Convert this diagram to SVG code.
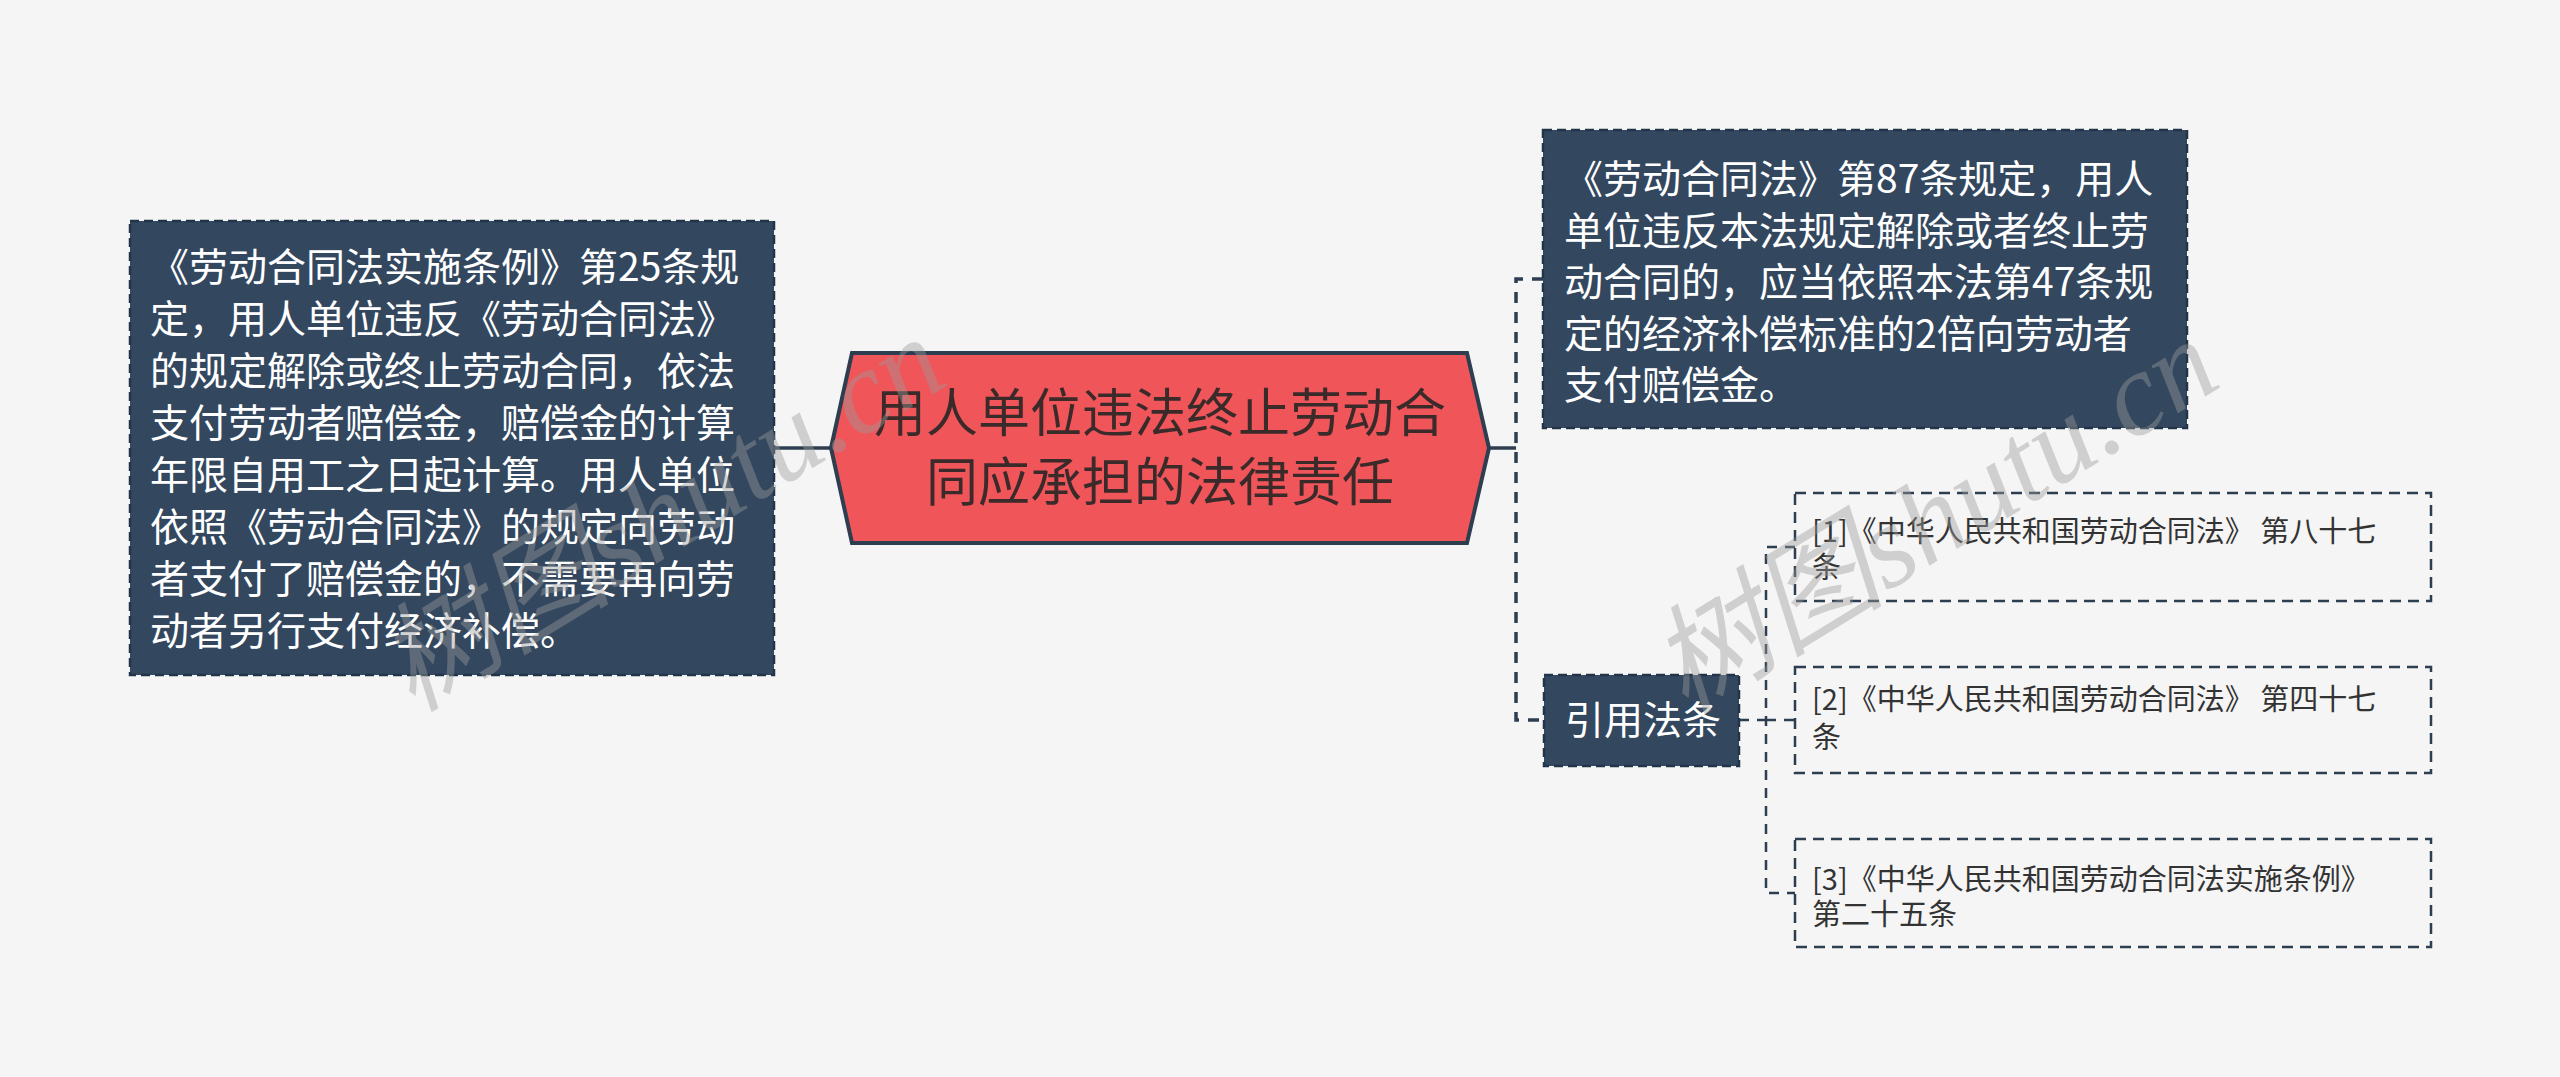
<svg xmlns="http://www.w3.org/2000/svg" width="2560" height="1077" viewBox="0 0 2560 1077">
<style>
.dark{fill:#33485f;stroke:#22344a;stroke-width:2.5;stroke-dasharray:9 5}
.wt{font-family:"Noto Sans CJK SC","Noto Sans",sans-serif;font-size:39px;fill:#ffffff}
.ct{font-family:"Noto Sans CJK SC","Noto Sans",sans-serif;font-size:52px;fill:#3a2a2a;text-anchor:middle}
.ref{fill:none;stroke:#2c3e50;stroke-width:2.5;stroke-dasharray:11 7}
.rt{font-family:"Noto Sans CJK SC","Noto Sans",sans-serif;font-size:29px;fill:#333333}
.solid{fill:none;stroke:#2c3e50;stroke-width:3.5}
.dash{fill:none;stroke:#2c3e50;stroke-width:3.5;stroke-dasharray:11 9}
.dash2{fill:none;stroke:#2c3e50;stroke-width:2.5;stroke-dasharray:10 8}
.wm{font-family:"Liberation Serif","Noto Sans CJK SC",serif;font-size:118px;font-style:italic;fill:#9a9a9a;fill-opacity:0.42;text-anchor:middle}
</style>
<rect x="0" y="0" width="2560" height="1077" fill="#f5f5f5"/>
<g id="connectors">
<line class="solid" x1="774" y1="448" x2="831" y2="448"/>
<line class="solid" x1="1489" y1="448" x2="1516" y2="448"/>
<path class="dash" d="M1543,279 H1516 V720 H1543"/>
<path class="dash2" d="M1739,720 H1766"/>
<path class="dash2" d="M1795,547 H1766 V893 H1795"/>
<path class="dash2" d="M1766,720 H1795"/>
</g>
<g id="node-left">
<rect class="dark" x="130" y="221" width="644" height="454"/>
<text class="wt" x="150" y="281">《劳动合同法实施条例》第25条规</text>
<text class="wt" x="150" y="333">定，用人单位违反《劳动合同法》</text>
<text class="wt" x="150" y="385">的规定解除或终止劳动合同，依法</text>
<text class="wt" x="150" y="437">支付劳动者赔偿金，赔偿金的计算</text>
<text class="wt" x="150" y="489">年限自用工之日起计算。用人单位</text>
<text class="wt" x="150" y="541">依照《劳动合同法》的规定向劳动</text>
<text class="wt" x="150" y="593">者支付了赔偿金的，不需要再向劳</text>
<text class="wt" x="150" y="645">动者另行支付经济补偿。</text>
</g>
<g id="node-center">
<polygon points="831,448 852,353 1467,353 1489,448 1467,543 852,543" fill="#f0555a" stroke="#2c3e50" stroke-width="4"/>
<text class="ct" x="1160" y="432">用人单位违法终止劳动合</text>
<text class="ct" x="1160" y="501">同应承担的法律责任</text>
</g>
<g id="node-art87">
<rect class="dark" x="1543" y="130" width="644" height="298"/>
<text class="wt" x="1564" y="193">《劳动合同法》第87条规定，用人</text>
<text class="wt" x="1564" y="244.5">单位违反本法规定解除或者终止劳</text>
<text class="wt" x="1564" y="296">动合同的，应当依照本法第47条规</text>
<text class="wt" x="1564" y="347.5">定的经济补偿标准的2倍向劳动者</text>
<text class="wt" x="1564" y="399">支付赔偿金。</text>
</g>
<g id="node-cite">
<rect class="dark" x="1544" y="675" width="195" height="91"/>
<text class="wt" x="1565" y="734">引用法条</text>
</g>
<g id="ref-1">
<rect class="ref" x="1795" y="493" width="636" height="108"/>
<text class="rt" x="1812" y="542">[1]《中华人民共和国劳动合同法》 第八十七</text>
<text class="rt" x="1812" y="578">条</text>
</g>
<g id="ref-2">
<rect class="ref" x="1795" y="667" width="636" height="106"/>
<text class="rt" x="1812" y="710">[2]《中华人民共和国劳动合同法》 第四十七</text>
<text class="rt" x="1812" y="748">条</text>
</g>
<g id="ref-3">
<rect class="ref" x="1795" y="839" width="636" height="108"/>
<text class="rt" x="1812" y="890">[3]《中华人民共和国劳动合同法实施条例》</text>
<text class="rt" x="1812" y="925">第二十五条</text>
</g>
<g id="watermark">
<text class="wm" transform="translate(682,548) rotate(-31.5)">树图shutu.cn</text>
<text class="wm" transform="translate(1955,550) rotate(-31.5)">树图shutu.cn</text>
</g>
</svg>
